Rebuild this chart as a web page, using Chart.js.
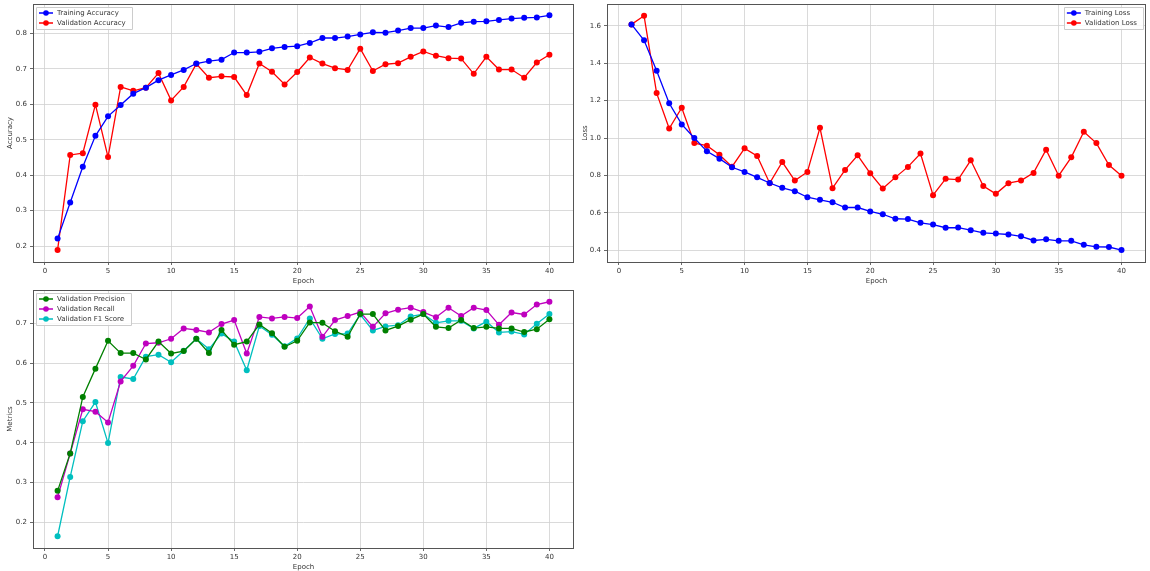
<!DOCTYPE html>
<html>
<head>
<meta charset="utf-8">
<script src="https://cdn.jsdelivr.net/npm/chart.js@4.4.1/dist/chart.umd.min.js"></script>
<style>
  html, body { margin: 0; padding: 0; background: #fff; }
  body { width: 1150px; height: 571px; position: relative; overflow: hidden; }
  .box { position: absolute; }
</style>
</head>
<body>
<div class="box" style="left:0;top:0;width:578px;height:285px;"><canvas id="accChart"></canvas></div>
<div class="box" style="left:575px;top:0;width:575px;height:285px;"><canvas id="lossChart"></canvas></div>
<div class="box" style="left:0;top:285px;width:578px;height:286px;"><canvas id="metricsChart"></canvas></div>

<script>
// === DATOS ===
const epochs = Array.from({ length: 40 }, (_, i) => i + 1);

const trainAcc = [0.221, 0.323, 0.424, 0.511, 0.566, 0.598, 0.630, 0.647, 0.668, 0.683,
                  0.697, 0.715, 0.722, 0.726, 0.746, 0.746, 0.748, 0.758, 0.762, 0.764,
                  0.773, 0.787, 0.787, 0.791, 0.797, 0.803, 0.802, 0.808, 0.815, 0.815,
                  0.822, 0.818, 0.830, 0.833, 0.834, 0.838, 0.842, 0.844, 0.845, 0.851];
const valAcc   = [0.189, 0.457, 0.462, 0.599, 0.451, 0.649, 0.638, 0.647, 0.688, 0.611,
                  0.649, 0.714, 0.675, 0.679, 0.677, 0.626, 0.715, 0.692, 0.656, 0.691,
                  0.732, 0.715, 0.702, 0.697, 0.757, 0.694, 0.713, 0.716, 0.734, 0.749,
                  0.737, 0.730, 0.729, 0.686, 0.734, 0.698, 0.698, 0.675, 0.718, 0.740];

const trainLoss = [1.607, 1.522, 1.359, 1.186, 1.073, 1.000, 0.929, 0.890, 0.844, 0.819,
                   0.790, 0.760, 0.734, 0.716, 0.684, 0.670, 0.657, 0.629, 0.629, 0.608,
                   0.593, 0.569, 0.567, 0.547, 0.538, 0.521, 0.522, 0.508, 0.494, 0.490,
                   0.485, 0.475, 0.453, 0.459, 0.451, 0.451, 0.430, 0.419, 0.418, 0.402];
const valLoss   = [1.607, 1.653, 1.240, 1.051, 1.162, 0.973, 0.959, 0.911, 0.847, 0.945,
                   0.904, 0.759, 0.872, 0.773, 0.819, 1.055, 0.732, 0.830, 0.908, 0.812,
                   0.730, 0.790, 0.846, 0.917, 0.695, 0.782, 0.778, 0.881, 0.744, 0.702,
                   0.759, 0.773, 0.814, 0.938, 0.799, 0.897, 1.034, 0.973, 0.856, 0.799];

const valPrecision = [0.279, 0.373, 0.515, 0.586, 0.656, 0.625, 0.625, 0.609, 0.654, 0.624,
                      0.630, 0.661, 0.625, 0.683, 0.646, 0.654, 0.697, 0.675, 0.641, 0.656,
                      0.702, 0.701, 0.680, 0.666, 0.723, 0.723, 0.682, 0.693, 0.709, 0.723,
                      0.691, 0.688, 0.708, 0.688, 0.691, 0.687, 0.687, 0.678, 0.685, 0.710];
const valRecall    = [0.263, 0.373, 0.484, 0.478, 0.451, 0.554, 0.593, 0.649, 0.651, 0.661,
                      0.687, 0.683, 0.677, 0.698, 0.708, 0.624, 0.716, 0.712, 0.716, 0.713,
                      0.742, 0.666, 0.708, 0.718, 0.728, 0.691, 0.725, 0.734, 0.739, 0.728,
                      0.715, 0.739, 0.718, 0.739, 0.733, 0.696, 0.727, 0.722, 0.747, 0.754];
const valF1        = [0.165, 0.314, 0.454, 0.502, 0.399, 0.565, 0.560, 0.616, 0.621, 0.602,
                      0.631, 0.661, 0.635, 0.674, 0.654, 0.582, 0.693, 0.671, 0.642, 0.662,
                      0.712, 0.661, 0.673, 0.674, 0.722, 0.682, 0.692, 0.695, 0.717, 0.723,
                      0.701, 0.706, 0.706, 0.687, 0.704, 0.677, 0.679, 0.672, 0.699, 0.723];

const xTicks       = [0, 5, 10, 15, 20, 25, 30, 35, 40];
const accTicks     = [0.2, 0.3, 0.4, 0.5, 0.6, 0.7, 0.8];
const lossTicks    = [0.4, 0.6, 0.8, 1.0, 1.2, 1.4, 1.6];
const metricsTicks = [0.2, 0.3, 0.4, 0.5, 0.6, 0.7];

const FONT = "'DejaVu Sans', sans-serif";
const FSIZE = 7;
const TEXT = "#333";

// === PLUGIN: marco del area + leyenda dentro del grafico (estilo matplotlib) ===
const mplFrame = {
    id: "mplFrame",
    afterDatasetsDraw(chart, args, opts) {
        const { ctx, chartArea: a } = chart;
        ctx.save();
        ctx.strokeStyle = "#555";
        ctx.lineWidth = 1;
        ctx.strokeRect(Math.round(a.left) + 0.5, Math.round(a.top) + 0.5,
                       Math.round(a.right - a.left) - 1, Math.round(a.bottom - a.top));

        // leyenda
        const sets = chart.data.datasets;
        ctx.font = `${FSIZE}px ${FONT}`;
        const textW = Math.max(...sets.map(d => ctx.measureText(d.label).width));
        const rowH = 10;
        const w = 23 + textW + 4;
        const h = sets.length * rowH + 2;
        const x0 = opts.side === "right" ? a.right - 3 - w : a.left + 3;
        const y0 = a.top + 3;

        ctx.fillStyle = "rgba(255,255,255,0.85)";
        ctx.strokeStyle = "#ccc";
        ctx.lineWidth = 1;
        ctx.beginPath();
        ctx.rect(Math.round(x0) + 0.5, Math.round(y0) + 0.5, Math.round(w), Math.round(h));
        ctx.fill();
        ctx.stroke();

        sets.forEach((d, i) => {
            const cy = y0 + 6 + i * rowH;
            ctx.strokeStyle = d.borderColor;
            ctx.lineWidth = 1.5;
            ctx.beginPath();
            ctx.moveTo(x0 + 3, cy);
            ctx.lineTo(x0 + 17, cy);
            ctx.stroke();
            ctx.fillStyle = d.pointBackgroundColor;
            ctx.beginPath();
            ctx.arc(x0 + 10, cy, 2.8, 0, Math.PI * 2);
            ctx.fill();
            ctx.fillStyle = TEXT;
            ctx.textBaseline = "middle";
            ctx.textAlign = "left";
            ctx.fillText(d.label, x0 + 21, cy + 0.5);
        });
        ctx.restore();
    }
};

function makeSeries(label, values, color) {
    return {
        label,
        data: values.map((v, i) => ({ x: epochs[i], y: v })),
        borderColor: color,
        backgroundColor: color,
        pointBackgroundColor: color,
        pointBorderColor: color,
        pointRadius: 3,
        pointBorderWidth: 0,
        borderWidth: 1.3,
        tension: 0
    };
}

function buildChart(id, datasets, yTicks, yMin, yMax, yTitle, yWidth, padding, legendSide) {
    return new Chart(document.getElementById(id), {
        type: "line",
        data: { datasets },
        plugins: [mplFrame],
        options: {
            responsive: true,
            maintainAspectRatio: false,
            animation: false,
            layout: { padding },
            plugins: {
                legend: { display: false },
                tooltip: { enabled: false },
                mplFrame: { side: legendSide }
            },
            scales: {
                x: {
                    type: "linear",
                    min: -0.95,
                    max: 41.95,
                    afterBuildTicks: (s) => { s.ticks = xTicks.map(v => ({ value: v })); },
                    afterFit: (s) => { s.height = 23; s.paddingLeft = 0; s.paddingRight = 0; },
                    grid: { color: "#d0d0d0", lineWidth: 0.8, tickLength: 3, tickColor: "#444", drawOnChartArea: true },
                    border: { display: false },
                    ticks: { font: { family: FONT, size: FSIZE }, color: TEXT, padding: 2, maxRotation: 0, callback: v => v },
                    title: { display: true, text: "Epoch", font: { family: FONT, size: FSIZE }, color: TEXT, padding: { top: 0, bottom: 0 } }
                },
                y: {
                    type: "linear",
                    min: yMin,
                    max: yMax,
                    afterBuildTicks: (s) => { s.ticks = yTicks.map(v => ({ value: v })); },
                    afterFit: (s) => { s.width = yWidth; s.paddingTop = 0; s.paddingBottom = 0; },
                    grid: { color: "#d0d0d0", lineWidth: 0.8, tickLength: 3, tickColor: "#444" },
                    border: { display: false },
                    ticks: { font: { family: FONT, size: FSIZE }, color: TEXT, padding: 3, callback: v => v.toFixed(1) },
                    title: { display: true, text: yTitle, font: { family: FONT, size: FSIZE }, color: TEXT, padding: { top: 6, bottom: 2 } }
                }
            }
        }
    });
}

buildChart("accChart", [
    makeSeries("Training Accuracy", trainAcc, "#0000ff"),
    makeSeries("Validation Accuracy", valAcc, "#ff0000")
], accTicks, 0.155, 0.883, "Accuracy", 33, { top: 4, right: 3, left: 0, bottom: 0 }, "left");

buildChart("lossChart", [
    makeSeries("Training Loss", trainLoss, "#0000ff"),
    makeSeries("Validation Loss", valLoss, "#ff0000")
], lossTicks, 0.338, 1.716, "Loss", 32, { top: 4, right: 1, left: 0, bottom: 0 }, "right");

buildChart("metricsChart", [
    makeSeries("Validation Precision", valPrecision, "#008000"),
    makeSeries("Validation Recall", valRecall, "#bf00bf"),
    makeSeries("Validation F1 Score", valF1, "#00bfbf")
], metricsTicks, 0.1355, 0.7835, "Metrics", 33, { top: 5, right: 3, left: 0, bottom: 0 }, "left");
</script>
</body>
</html>
